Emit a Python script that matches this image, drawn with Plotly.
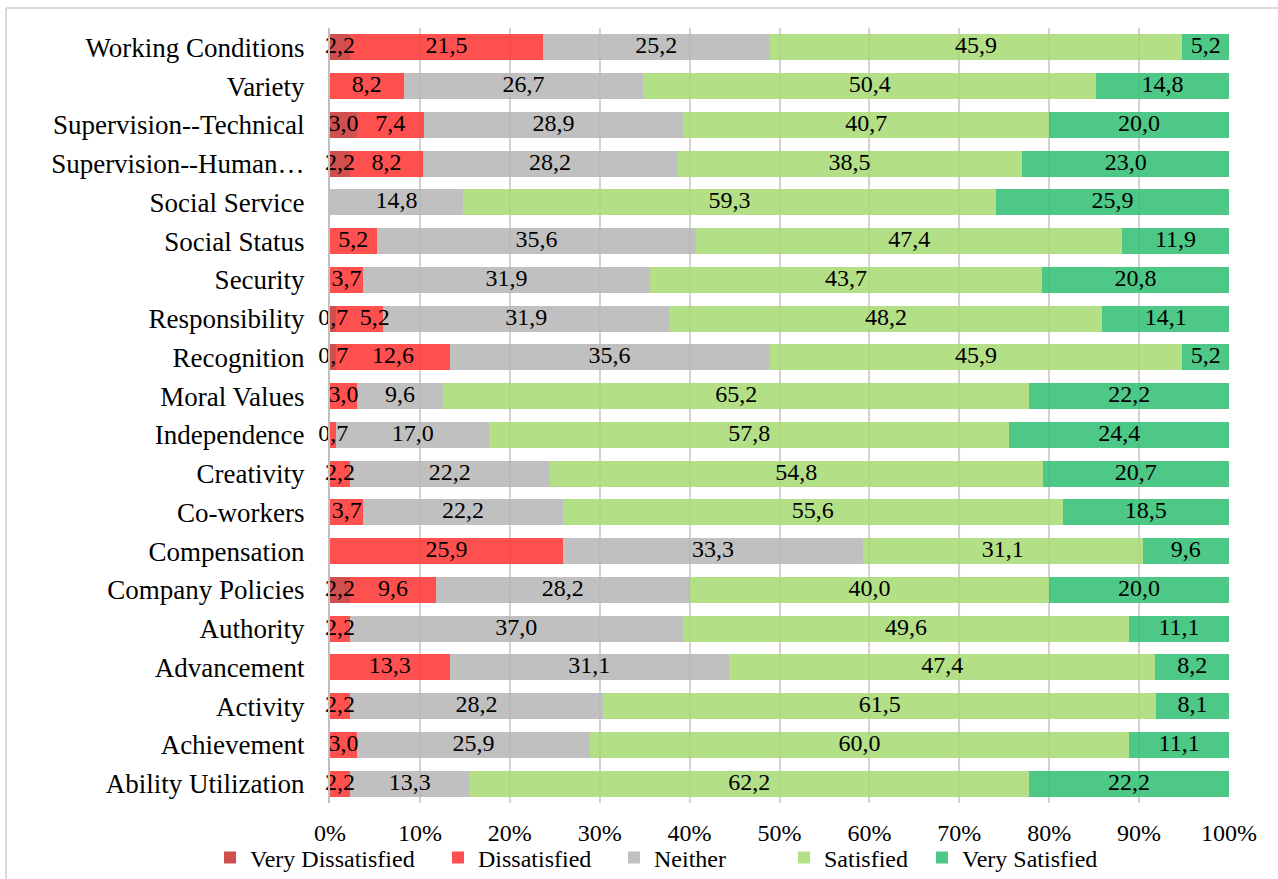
import plotly.graph_objects as go

categories = [
    "Working Conditions", "Variety", "Supervision--Technical", "Supervision--Human…",
    "Social Service", "Social Status", "Security", "Responsibility", "Recognition",
    "Moral Values", "Independence", "Creativity", "Co-workers", "Compensation",
    "Company Policies", "Authority", "Advancement", "Activity", "Achievement",
    "Ability Utilization",
]

very_dissatisfied = [2.2, 0, 3.0, 2.2, 0, 0, 0, 0.7, 0.7, 0, 0, 0, 0, 0, 2.2, 0, 0, 0, 0, 0]
dissatisfied = [21.5, 8.2, 7.4, 8.2, 0, 5.2, 3.7, 5.2, 12.6, 3.0, 0.7, 2.2, 3.7, 25.9, 9.6, 2.2, 13.3, 2.2, 3.0, 2.2]
neither = [25.2, 26.7, 28.9, 28.2, 14.8, 35.6, 31.9, 31.9, 35.6, 9.6, 17.0, 22.2, 22.2, 33.3, 28.2, 37.0, 31.1, 28.2, 25.9, 13.3]
satisfied = [45.9, 50.4, 40.7, 38.5, 59.3, 47.4, 43.7, 48.2, 45.9, 65.2, 57.8, 54.8, 55.6, 31.1, 40.0, 49.6, 47.4, 61.5, 60.0, 62.2]
very_satisfied = [5.2, 14.8, 20.0, 23.0, 25.9, 11.9, 20.8, 14.1, 5.2, 22.2, 24.4, 20.7, 18.5, 9.6, 20.0, 11.1, 8.2, 8.1, 11.1, 22.2]

series = [
    ("Very Dissatisfied", very_dissatisfied, "#d05050"),
    ("Dissatisfied", dissatisfied, "#ff5050"),
    ("Neither", neither, "#c0c0c0"),
    ("Satisfied", satisfied, "#b3df86"),
    ("Very Satisfied", very_satisfied, "#4dc887"),
]
# where each legend entry's text begins (pixels from the left edge)
legend_text_x = [250, 478, 654, 824, 962]

FONT = "Liberation Serif, Times New Roman, serif"
L, R, T, B = 330, 49, 28, 76
PW, PH = 1278 - L - R, 879 - T - B

n = len(categories)
totals = [sum(s[1][i] for s in series) for i in range(n)]

fig = go.Figure()
cum = [0.0] * n
last_mid = [None] * n
label_x, label_y, label_t, label_pos = [], [], [], []
for k, (name, vals, color) in enumerate(series):
    fig.add_trace(go.Bar(
        y=categories, x=vals, name=name, orientation="h",
        marker=dict(color=color, line=dict(width=0)),
        textposition="none",
        legend="legend" if k == 0 else f"legend{k + 1}",
        hoverinfo="x+y+name",
    ))
    for i, v in enumerate(vals):
        if v != 0:
            mid = (cum[i] + v / 2) / totals[i] * 100
            crowded = last_mid[i] is not None and mid - last_mid[i] < 3.5
            label_x.append(mid)
            label_y.append(categories[i])
            label_t.append(f"{v:.1f}".replace(".", ","))
            label_pos.append("middle right" if crowded else "middle center")
            last_mid[i] = mid
        cum[i] += v

fig.add_trace(go.Scatter(
    x=label_x, y=label_y, text=label_t, mode="text",
    textposition=label_pos,
    textfont=dict(family=FONT, size=24, color="#000000"),
    showlegend=False, cliponaxis=False, hoverinfo="skip",
))

legend_y = -(858 - (T + PH)) / PH
legends = {}
for k, tx in enumerate(legend_text_x):
    key = "legend" if k == 0 else f"legend{k + 1}"
    legends[key] = dict(
        orientation="h", x=(tx - 40 - L) / PW, xanchor="left",
        y=legend_y, yanchor="middle", bgcolor="rgba(0,0,0,0)",
        font=dict(family=FONT, size=24, color="#000000"),
        itemwidth=30,
    )

fig.update_layout(
    barmode="stack",
    barnorm="percent",
    bargap=0.33,
    width=1278, height=879,
    margin=dict(l=L, r=R, t=T, b=B, autoexpand=False),
    paper_bgcolor="white", plot_bgcolor="white",
    font=dict(family=FONT, size=24, color="#000000"),
    xaxis=dict(
        range=[0, 100], tickvals=list(range(0, 101, 10)),
        ticktext=[f"{v}%" for v in range(0, 101, 10)],
        showgrid=True, gridcolor="#d9d9d9", gridwidth=2,
        zeroline=False, showline=False,
        ticks="outside", ticklen=8, tickcolor="rgba(0,0,0,0)",
        tickfont=dict(family=FONT, size=24, color="#000000"),
        fixedrange=True,
    ),
    yaxis=dict(
        range=[n - 0.5, -0.5], autorange=False,
        categoryorder="array", categoryarray=categories,
        showline=True, linecolor="#bfbfbf", linewidth=2,
        ticks="outside", ticklen=18, tickcolor="rgba(0,0,0,0)",
        tickfont=dict(family=FONT, size=27, color="#000000"),
        showgrid=False, fixedrange=True,
    ),
    shapes=[
        dict(type="line", xref="paper", yref="paper",
             x0=(6 - L) / PW, x1=(1300 - L) / PW, y0=(T + PH - 8) / PH, y1=(T + PH - 8) / PH,
             line=dict(color="#d9d9d9", width=2)),
        dict(type="line", xref="paper", yref="paper",
             x0=(6 - L) / PW, x1=(6 - L) / PW, y0=(T + PH - 8) / PH, y1=-0.2,
             line=dict(color="#d9d9d9", width=2)),
    ] + [
        dict(type="line", xref="x", yref="paper", x0=g, x1=g, y0=0, y1=1,
             layer="above", line=dict(color="rgba(0,0,0,0.03)", width=2))
        for g in range(10, 100, 10)
    ],
    **legends,
)

fig.write_html("out.html")
